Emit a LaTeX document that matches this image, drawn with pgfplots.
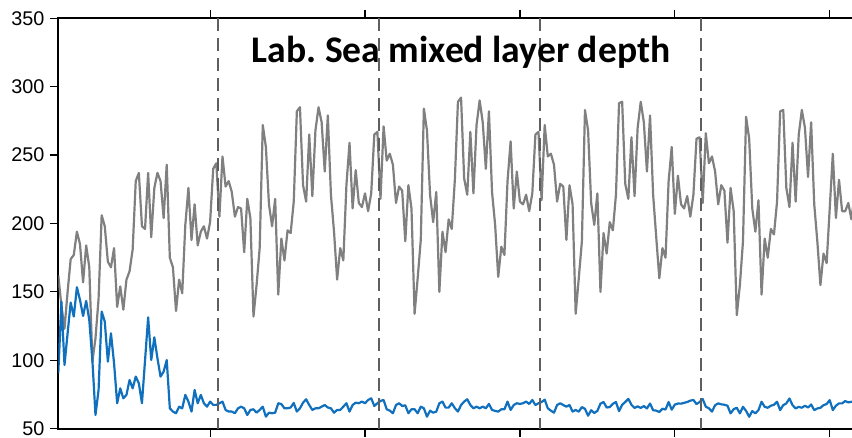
\documentclass[border=0pt]{standalone}
\usepackage{fontspec}
\setmainfont{Liberation Sans}
\newfontfamily\titlefont{Carlito}
\usepackage{pgfplots}
\usepackage{pgfplotstable}
\pgfplotsset{compat=1.18}
\definecolor{mlgray}{RGB}{128,128,128}
\definecolor{mlblue}{RGB}{16,112,190}
\definecolor{dashgray}{RGB}{95,95,95}
\pgfplotstableread[row sep=\\]{
x g b\\
1 162 90.5\\ 2 140 142.9\\ 3 123 96.6\\ 4 150 119.7\\ 5 174 142.2\\ 6 177 132.0\\ 7 194 153.4\\ 8 185 144.1\\ 9 157 132.4\\ 10 184 143.4\\
11 168 129.5\\ 12 99 100.2\\ 13 116 60.0\\ 14 145 78.3\\ 15 206 135.6\\ 16 198 128.3\\ 17 172 99.0\\ 18 168 119.7\\ 19 182 97.8\\ 20 139 68.6\\
21 154 79.5\\ 22 137 72.2\\ 23 159 74.7\\ 24 165 85.6\\ 25 181 79.5\\ 26 231 88.1\\ 27 237 83.2\\ 28 198 68.6\\ 29 196 100.0\\ 30 237 131.4\\
31 190 100.2\\ 32 226 116.8\\ 33 237 101.5\\ 34 231 88.1\\ 35 204 91.7\\ 36 243 100.2\\ 37 175 64.9\\ 38 168 62.5\\ 39 136 61.3\\ 40 159 66.1\\
41 149 64.9\\ 42 199 74.7\\ 43 226 69.8\\ 44 188 62.5\\ 45 214 78.3\\ 46 184 68.6\\ 47 194 74.7\\ 48 198 68.6\\ 49 189 66.1\\ 50 201 69.8\\
51 240 67.4\\ 52 244 67.4\\ 53 205 68.6\\ 54 249 69.8\\ 55 227 63.7\\ 56 231 62.5\\ 57 223 62.5\\ 58 205 61.3\\ 59 212 64.9\\ 60 211 66.1\\
61 179 64.9\\ 62 218 60.0\\ 63 204 63.7\\ 64 132 64.2\\ 65 155 61.7\\ 66 182 63.7\\ 67 272 66.1\\ 68 256 58.8\\ 69 214 61.7\\ 70 198 61.3\\
71 218 61.7\\ 72 148 68.6\\ 73 189 68.0\\ 74 173 64.9\\ 75 195 64.9\\ 76 193 65.5\\ 77 216 68.8\\ 78 282 62.5\\ 79 285 64.9\\ 80 228 69.0\\
81 216 71.5\\ 82 265 67.3\\ 83 220 63.7\\ 84 268 64.9\\ 85 285 64.9\\ 86 274 66.1\\ 87 238 67.3\\ 88 279 65.5\\ 89 221 64.9\\ 90 194 61.7\\
91 159 63.7\\ 92 182 63.7\\ 93 173 66.1\\ 94 228 68.6\\ 95 259 62.5\\ 96 211 67.3\\ 97 239 69.0\\ 98 215 68.6\\ 99 212 69.8\\ 100 222 68.6\\
101 209 71.0\\ 102 222 72.2\\ 103 265 66.6\\ 104 267 68.6\\ 105 218 70.3\\ 106 271 71.0\\ 107 246 64.2\\ 108 251 63.2\\ 109 243 61.3\\ 110 215 67.3\\
111 227 68.6\\ 112 224 66.6\\ 113 187 67.1\\ 114 228 61.3\\ 115 211 64.2\\ 116 134 64.2\\ 117 160 61.3\\ 118 188 66.1\\ 119 284 64.9\\ 120 268 58.8\\
121 221 63.2\\ 122 201 61.7\\ 123 223 62.5\\ 124 150 68.6\\ 125 194 69.8\\ 126 179 65.4\\ 127 203 65.4\\ 128 196 68.6\\ 129 232 65.0\\ 130 289 62.5\\
131 292 67.3\\ 132 233 69.8\\ 133 221 71.5\\ 134 267 67.3\\ 135 222 64.9\\ 136 272 66.1\\ 137 290 64.9\\ 138 274 66.1\\ 139 240 64.9\\ 140 282 68.1\\
141 223 63.7\\ 142 199 63.0\\ 143 161 62.5\\ 144 183 64.2\\ 145 177 64.2\\ 146 231 69.8\\ 147 260 63.7\\ 148 211 67.3\\ 149 238 68.6\\ 150 216 68.1\\
151 214 68.6\\ 152 221 69.8\\ 153 209 68.1\\ 154 222 71.0\\ 155 265 67.3\\ 156 267 68.6\\ 157 217 69.5\\ 158 272 71.2\\ 159 249 64.9\\ 160 251 63.2\\
161 243 61.7\\ 162 216 67.3\\ 163 229 68.6\\ 164 227 67.3\\ 165 188 66.1\\ 166 228 67.3\\ 167 214 62.5\\ 168 134 63.7\\ 169 160 62.5\\ 170 187 65.8\\
171 283 64.5\\ 172 268 59.5\\ 173 215 63.5\\ 174 199 61.5\\ 175 222 63.0\\ 176 150 68.3\\ 177 193 69.5\\ 178 178 65.5\\ 179 201 65.8\\ 180 195 68.2\\
181 221 69.5\\ 182 288 62.8\\ 183 289 67.5\\ 184 229 69.5\\ 185 218 71.8\\ 186 263 67.5\\ 187 220 65.2\\ 188 270 66.3\\ 189 289 65.2\\ 190 274 66.5\\
191 238 64.8\\ 192 279 68.4\\ 193 221 63.5\\ 194 190 63.2\\ 195 160 62.2\\ 196 182 64.6\\ 197 175 64.0\\ 198 231 69.5\\ 199 256 63.9\\ 200 207 67.6\\
201 235 68.4\\ 202 214 68.3\\ 203 211 68.9\\ 204 220 69.5\\ 205 205 70.5\\ 206 221 71.0\\ 207 262 68.0\\ 208 263 69.5\\ 209 215 71.7\\ 210 266 66.1\\
211 244 64.9\\ 212 249 62.5\\ 213 238 67.2\\ 214 214 68.5\\ 215 228 67.8\\ 216 224 67.5\\ 217 186 66.8\\ 218 226 61.2\\ 219 209 64.3\\ 220 133 65.3\\
221 155 61.2\\ 222 187 66.0\\ 223 278 63.0\\ 224 262 58.7\\ 225 211 62.9\\ 226 194 61.2\\ 227 217 63.6\\ 228 148 69.7\\ 229 189 66.0\\ 230 175 65.3\\
231 196 66.8\\ 232 192 67.5\\ 233 216 69.7\\ 234 282 63.6\\ 235 283 67.2\\ 236 226 68.5\\ 237 212 72.1\\ 238 259 67.2\\ 239 216 64.8\\ 240 265 66.0\\
241 283 65.3\\ 242 270 66.8\\ 243 234 65.5\\ 244 274 67.7\\ 245 214 63.6\\ 246 187 64.8\\ 247 155 65.3\\ 248 178 67.2\\ 249 171 68.0\\ 250 211 70.9\\
251 251 63.6\\ 252 204 66.8\\ 253 232 68.5\\ 254 209 68.5\\ 255 209 70.2\\ 256 215 69.2\\ 257 203 69.7\\ 258 221 69.0\\ 259 262 68.0\\ 260 263 68.5\\
}\mld
\begin{document}
\begin{tikzpicture}
\useasboundingbox (-29.15pt,-4.65pt) rectangle (396.85pt,214.35pt);
\begin{axis}[
  at={(0pt,0pt)}, anchor=south west,
  scale only axis, width=401.2pt, height=205.2pt,
  xmin=1, xmax=260, ymin=50, ymax=350,
  xtick={50,100,150,200,250}, xticklabels={},
  ytick={50,100,150,200,250,300,350},
  tick align=outside, major tick length=4.15pt,
  xtick pos=both, ytick pos=left,
  axis line style={line width=0.85pt, black},
  every tick/.style={line width=0.6pt, black},
  tick label style={font=\fontsize{9.9}{11}\selectfont},
  /pgf/number format/assume math mode=true,
  yticklabel style={inner sep=2.6pt},
]
\addplot[mlgray, line width=1.1pt, line join=round] table[x=x, y=g]{\mld};
\addplot[mlblue, line width=1.1pt, line join=round] table[x=x, y=b]{\mld};
\addplot[dashgray, line width=0.9pt, dash pattern=on 6.5pt off 3.5pt] coordinates {(52.5,350) (52.5,50)};
\addplot[dashgray, line width=0.9pt, dash pattern=on 6.5pt off 3.5pt] coordinates {(104.5,350) (104.5,50)};
\addplot[dashgray, line width=0.9pt, dash pattern=on 6.5pt off 3.5pt] coordinates {(156.5,350) (156.5,50)};
\addplot[dashgray, line width=0.9pt, dash pattern=on 6.5pt off 3.5pt] coordinates {(208.5,350) (208.5,50)};
\node[font=\titlefont\bfseries\fontsize{18.8}{21}\selectfont, anchor=base] at (axis cs:131,318) {Lab.\ Sea mixed layer depth};
\end{axis}
\end{tikzpicture}
\end{document}
